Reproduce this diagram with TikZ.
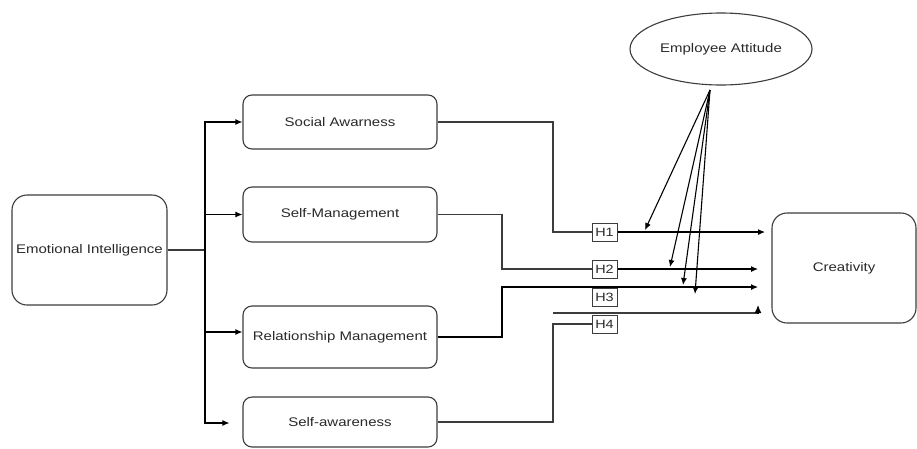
\documentclass[tikz,border=0pt]{standalone}
\usepackage{fontspec}
\setmainfont{Liberation Sans}[FakeStretch=1.2]
\usetikzlibrary{arrows.meta,shapes.geometric,calc}
\definecolor{ln}{HTML}{3C3C3C}
\definecolor{tx}{HTML}{2A2A2A}
\begin{document}
\begin{tikzpicture}[x=1pt,y=-1pt, font=\fontsize{12.5}{14}\selectfont, text=tx,
 box/.style={draw=ln, line width=1.1pt, rounded corners=9pt, inner sep=0pt, fill=white},
 hbox/.style={draw=ln, line width=1pt, minimum width=25pt, minimum height=18pt, inner sep=0pt, fill=white, font=\fontsize{12}{12}\selectfont},
 conn/.style={draw=ln, line width=1.1pt},
 arr/.style={draw=black, line width=1.1pt, -{Latex[length=7pt,width=6pt]}}]
\useasboundingbox (0,0) rectangle (917,448);
\fill[white] (0,0) rectangle (917,448);

\node[box, rounded corners=15pt, minimum width=155pt, minimum height=110pt] (ei) at (89.5,250) {Emotional Intelligence};
\node[box, minimum width=194pt, minimum height=54pt] (sa) at (340,122) {Social Awarness};
\node[box, minimum width=194pt, minimum height=55pt] (sm) at (340,214.5) {Self-Management};
\node[box, minimum width=194pt, minimum height=62pt] (rm) at (340,337) {Relationship Management};
\node[box, minimum width=194pt, minimum height=50pt] (sw) at (340,422) {Self-awareness};
\node[box, rounded corners=15pt, minimum width=144pt, minimum height=110pt] (cr) at (844,268) {Creativity};
\node[draw=ln, line width=1.1pt, ellipse, minimum width=182pt, minimum height=72pt, inner sep=0pt] (ea) at (721,49) {Employee Attitude};

\node[hbox] (h1) at (604.5,232) {H1};
\node[hbox] (h2) at (604.5,269) {H2};
\node[hbox] (h3) at (604.5,297) {H3};
\node[hbox] (h4) at (604.5,324) {H4};

% trunk from Emotional Intelligence
\coordinate (trunk) at (205,250);
\draw[conn] (ei.east) -- (trunk);
\draw[arr] (trunk) |- (sa.west);
\draw[arr] (trunk) |- (sm.west);
\draw[arr] (trunk) |- ($(rm.west)+(0,-5)$);
\draw[arr] (trunk) |- ($(sw.west)+(-13,1)$);

% to Creativity
\coordinate (c1) at (765,232);
\coordinate (c2) at (758,269);
\coordinate (c3) at (758,287);
\draw[conn] (sa.east) -- (553,122) |- (h1.west);
\draw[arr] (h1.east) -- (c1);
\draw[conn] (sm.east) -- (502,214.5) |- (h2.west);
\draw[arr] (h2.east) -- (c2);
\draw[arr] (rm.east) -- (502,337) |- (c3);
\draw[conn] (sw.east) -- (553,422) |- (h4.west);
\coordinate (f0) at (553,313);
\coordinate (f1) at (758,313);
\coordinate (f2) at (758,305);
\draw[conn] (f0) -- (f1);
\draw[black, line width=1.1pt, -{Latex[length=8pt,width=7pt]}] ($(f1)+(0,0.5)$) -- (f2);

% moderator arrows
\coordinate (src) at (710,90);
\coordinate (t1) at (645,230);
\coordinate (t2) at (670,267);
\coordinate (t3) at (683,285);
\coordinate (t4) at (695,294);
\draw[arr] (src) -- (t1);
\draw[arr] (src) -- (t2);
\draw[arr] (src) -- (t3);
\draw[arr] (src) -- (t4);
\end{tikzpicture}
\end{document}
